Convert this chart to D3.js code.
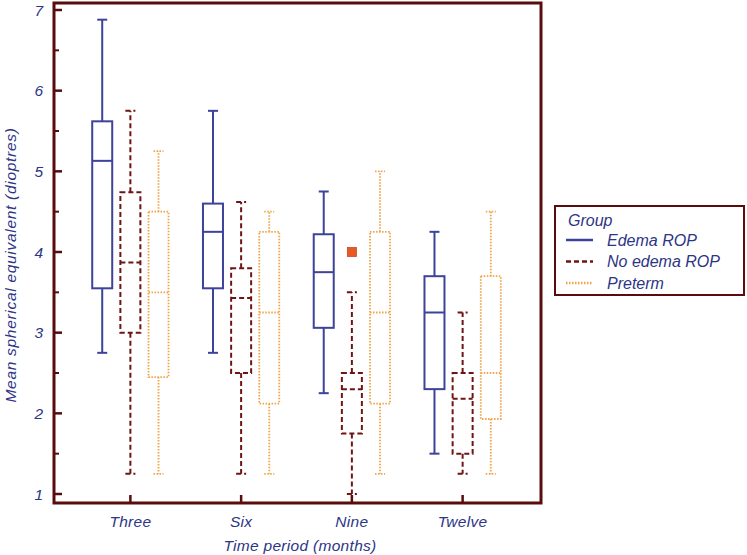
<!DOCTYPE html>
<html><head><meta charset="utf-8">
<script src="https://cdn.jsdelivr.net/npm/d3@7"></script>
<style>body{margin:0;background:#fff;} svg{display:block;font-family:Arial,"Liberation Sans",sans-serif;}</style>
</head><body><svg id="c" width="747" height="555"></svg>
<script>
const periods = ["Three","Six","Nine","Twelve"];
const groups = ["Edema ROP","No edema ROP","Preterm"];
// [whiskerLow, Q1, median, Q3, whiskerHigh] per period
const edema   = [[2.75,3.55,5.13,5.62,6.88],[2.75,3.55,4.25,4.6,5.75],[2.25,3.06,3.75,4.22,4.75],[1.5,2.3,3.25,3.7,4.25]];
const noEdema = [[1.25,3.0,3.87,4.74,5.75],[1.25,2.5,3.43,3.8,4.62],[1.0,1.75,2.3,2.5,3.5],[1.25,1.5,2.18,2.5,3.25]];
const preterm = [[1.25,2.45,3.5,4.5,5.25],[1.25,2.12,3.25,4.25,4.5],[1.25,2.12,3.25,4.25,5.0],[1.25,1.93,2.5,3.7,4.5]];
const outliers = [{period:"Nine",group:"No edema ROP",value:4.0}];
const yTicks = [1,2,3,4,5,6,7];
const yMinor = [1.5,2.5,3.5,4.5,5.5,6.5];

const seriesData = [edema,noEdema,preterm];
const styles = [
  {color:"#3d4399", dash:null, width:2},
  {color:"#6e1414", dash:"5,3", width:2},
  {color:"#f0a347", dash:"1.5,1.5", width:1.8}
];
const frameColor = "#5a0c0c";
const textColor = "#2d3585";

const svg = d3.select("#c");
const L=54, R=541, T=3, B=503;
const y = d3.scaleLinear().domain([1,7]).range([494,10]);
const x = d3.scaleBand().domain(periods).range([75,518]);
const gx = d3.scaleBand().domain(groups).range([-38,38]).paddingInner(0.3);
const bw = 20;

// y axis ticks and labels
const yAxisG = svg.append("g");
yTicks.forEach(v=>{
  yAxisG.append("line").attr("x1",L).attr("x2",L+8).attr("y1",y(v)).attr("y2",y(v)).attr("stroke",frameColor).attr("stroke-width",2.5);
  yAxisG.append("text").attr("x",L-11).attr("y",y(v)).attr("dy","0.36em").attr("text-anchor","end")
    .attr("fill",textColor).attr("font-size",15.5).attr("font-style","italic").text(v);
});
yMinor.forEach(v=>{
  yAxisG.append("line").attr("x1",L).attr("x2",L+5).attr("y1",y(v)).attr("y2",y(v)).attr("stroke",frameColor).attr("stroke-width",2);
});
periods.forEach(p=>{
  const cx = x(p)+x.bandwidth()/2;
  svg.append("line").attr("x1",cx).attr("x2",cx).attr("y1",B).attr("y2",B-8).attr("stroke",frameColor).attr("stroke-width",2.5);
  svg.append("text").attr("x",cx).attr("y",527).attr("text-anchor","middle").attr("fill",textColor)
    .attr("font-size",15.5).attr("letter-spacing",0.3).attr("font-style","italic").text(p);
});

// boxes
seriesData.forEach((ser,gi)=>{
  const st = styles[gi];
  ser.forEach((d,pi)=>{
    const cx = x(periods[pi])+x.bandwidth()/2 + gx(groups[gi])+gx.bandwidth()/2;
    const g = svg.append("g").attr("fill","none").attr("stroke",st.color).attr("stroke-width",st.width);
    if(st.dash) g.attr("stroke-dasharray",st.dash);
    g.append("line").attr("x1",cx).attr("x2",cx).attr("y1",y(d[3])).attr("y2",y(d[4]));
    g.append("line").attr("x1",cx).attr("x2",cx).attr("y1",y(d[1])).attr("y2",y(d[0]));
    g.append("line").attr("x1",cx-5).attr("x2",cx+5).attr("y1",y(d[4])).attr("y2",y(d[4]));
    g.append("line").attr("x1",cx-5).attr("x2",cx+5).attr("y1",y(d[0])).attr("y2",y(d[0]));
    g.append("rect").attr("x",cx-bw/2).attr("width",bw).attr("y",y(d[3])).attr("height",y(d[1])-y(d[3]));
    g.append("line").attr("x1",cx-bw/2).attr("x2",cx+bw/2).attr("y1",y(d[2])).attr("y2",y(d[2]));
  });
});

outliers.forEach(o=>{
  const cx = x(o.period)+x.bandwidth()/2 + gx(o.group)+gx.bandwidth()/2;
  svg.append("rect").attr("x",cx-4.5).attr("y",y(o.value)-4.5).attr("width",9).attr("height",9)
    .attr("fill","#e85a25").attr("stroke","#c44a20").attr("stroke-width",0.8);
});

// frame
svg.append("rect").attr("x",L).attr("y",T).attr("width",R-L).attr("height",B-T)
  .attr("fill","none").attr("stroke",frameColor).attr("stroke-width",3);

// axis titles
svg.append("text").attr("transform","translate(16,265) rotate(-90)").attr("text-anchor","middle")
  .attr("fill",textColor).attr("font-size",15.5).attr("letter-spacing",0.7).attr("font-style","italic").text("Mean spherical equivalent (dioptres)");
svg.append("text").attr("x",300).attr("y",551).attr("text-anchor","middle")
  .attr("fill",textColor).attr("font-size",15.5).attr("letter-spacing",0.3).attr("font-style","italic").text("Time period (months)");

// legend
const lg = svg.append("g");
lg.append("rect").attr("x",555).attr("y",206).attr("width",189).attr("height",89)
  .attr("fill","#fff").attr("stroke",frameColor).attr("stroke-width",2);
lg.append("text").attr("x",568).attr("y",226).attr("fill",textColor).attr("font-size",16).attr("font-style","italic").text("Group");
groups.forEach((gname,i)=>{
  const yy = 240 + i*21.5;
  const st = styles[i];
  const ln = lg.append("line").attr("x1",566).attr("x2",593).attr("y1",yy).attr("y2",yy)
    .attr("stroke",st.color).attr("stroke-width",st.width+0.5);
  if(st.dash) ln.attr("stroke-dasharray",st.dash);
  lg.append("text").attr("x",607).attr("y",yy).attr("dy","0.36em").attr("fill",textColor)
    .attr("font-size",16).attr("font-style","italic").text(gname);
});
</script></body></html>
